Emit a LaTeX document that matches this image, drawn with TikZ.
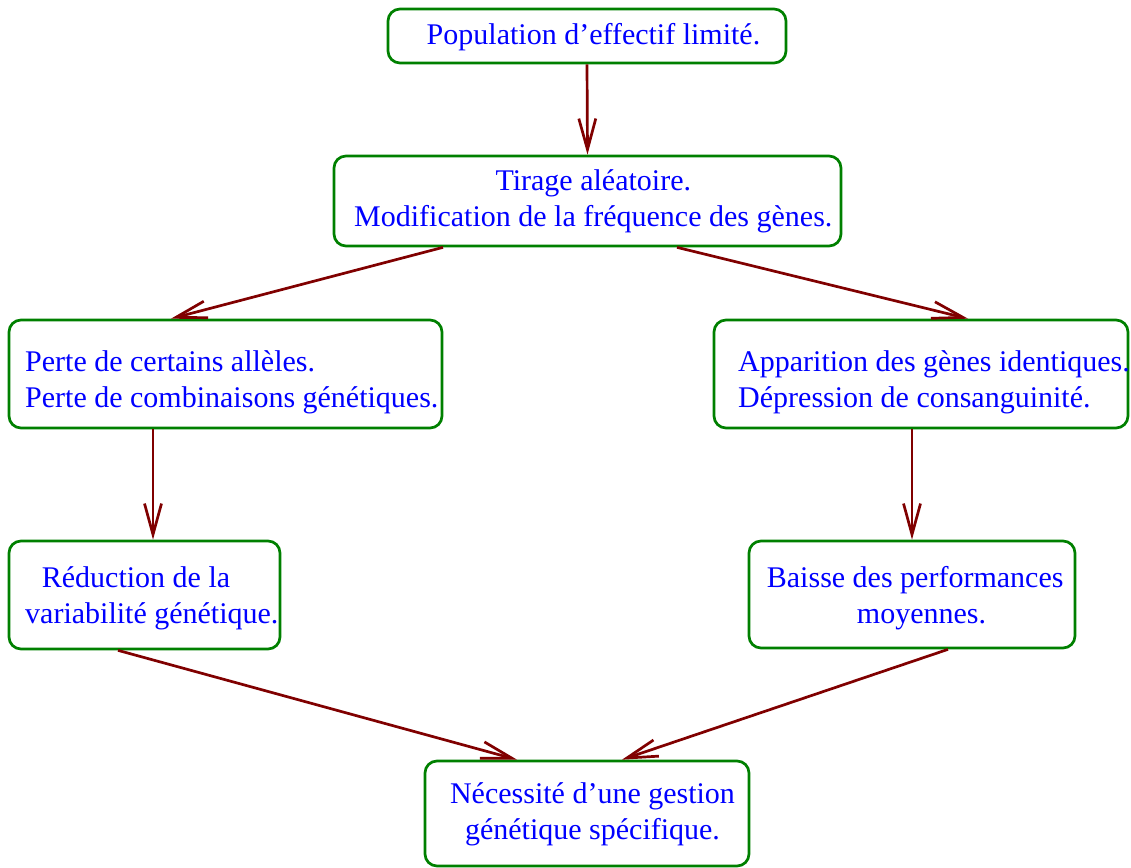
\documentclass[tikz,border=0pt]{standalone}
\usepackage{fontspec}
\setmainfont{Liberation Serif}
\usetikzlibrary{arrows.meta}
\definecolor{boxgreen}{RGB}{0,128,0}
\definecolor{arrred}{RGB}{128,0,0}
\definecolor{txtblue}{RGB}{0,0,255}
\begin{document}
\begin{tikzpicture}[x=1pt,y=-1pt,
  box/.style={draw=boxgreen, line width=2.7pt, rounded corners=12pt, rectangle, inner sep=0pt},
  lbl/.style={text=txtblue, inner sep=0pt, font=\fontsize{30pt}{35.5pt}\selectfont},
  conn/.style={draw=arrred, line width=2.7pt, -{Straight Barb[length=31pt, width=17pt, line width=2.7pt]}}
]
\useasboundingbox (0,0) rectangle (1131,867);
% boxes
\node[box, minimum width=398pt, minimum height=54pt] (n1) at (587,36) {};
\node[box, minimum width=507pt, minimum height=90pt] (n2) at (587.5,201) {};
\node[box, minimum width=433pt, minimum height=108pt] (n3) at (225.5,374) {};
\node[box, minimum width=414pt, minimum height=108pt] (n4) at (921,374) {};
\node[box, minimum width=271pt, minimum height=108pt] (n5) at (144.5,595) {};
\node[box, minimum width=326pt, minimum height=107pt] (n6) at (912,594.5) {};
\node[box, minimum width=324pt, minimum height=105pt] (n7) at (587,813.5) {};
% texts (base anchor = baseline of the last line)
\node[lbl, anchor=base] (t1) at (593.5,45) {Population d’effectif limité.};
\node[lbl, anchor=base, align=center] (t2) at (593.3,226) {Tirage aléatoire.\\Modification de la fréquence des gènes.};
\node[lbl, anchor=base west, align=left] (t3) at (25,407) {Perte de certains allèles.\\Perte de combinaisons génétiques.};
\node[lbl, anchor=base west, align=left] (t4) at (738,407) {Apparition des gènes identiques.\\Dépression de consanguinité.};
\node[lbl, anchor=base west, align=left] (t5) at (25,623) {\hspace*{16.7pt}Réduction de la\\variabilité génétique.};
\node[lbl, anchor=base west, align=left] (t6) at (766.7,623) {Baisse des performances\\\hspace*{90pt}moyennes.};
\node[lbl, anchor=base, align=center] (t7) at (592.5,839) {Nécessité d’une gestion\\génétique spécifique.};
% connectors
\draw[conn] (n1.south) -- (n2.north);
\draw[conn] ([xshift=-144.5pt]n2.south) -- ([xshift=-54.5pt]n3.north);
\draw[conn] ([xshift=89.5pt]n2.south) -- ([xshift=47pt]n4.north);
\draw[conn] ([xshift=-72.5pt]n3.south) -- ([xshift=8.5pt]n5.north);
\draw[conn] ([xshift=-9pt]n4.south) -- (n6.north);
\draw[conn] ([xshift=-26.5pt]n5.south) -- ([xshift=-70pt]n7.north);
\draw[conn] ([xshift=36pt]n6.south) -- ([xshift=35pt]n7.north);
\end{tikzpicture}
\end{document}
